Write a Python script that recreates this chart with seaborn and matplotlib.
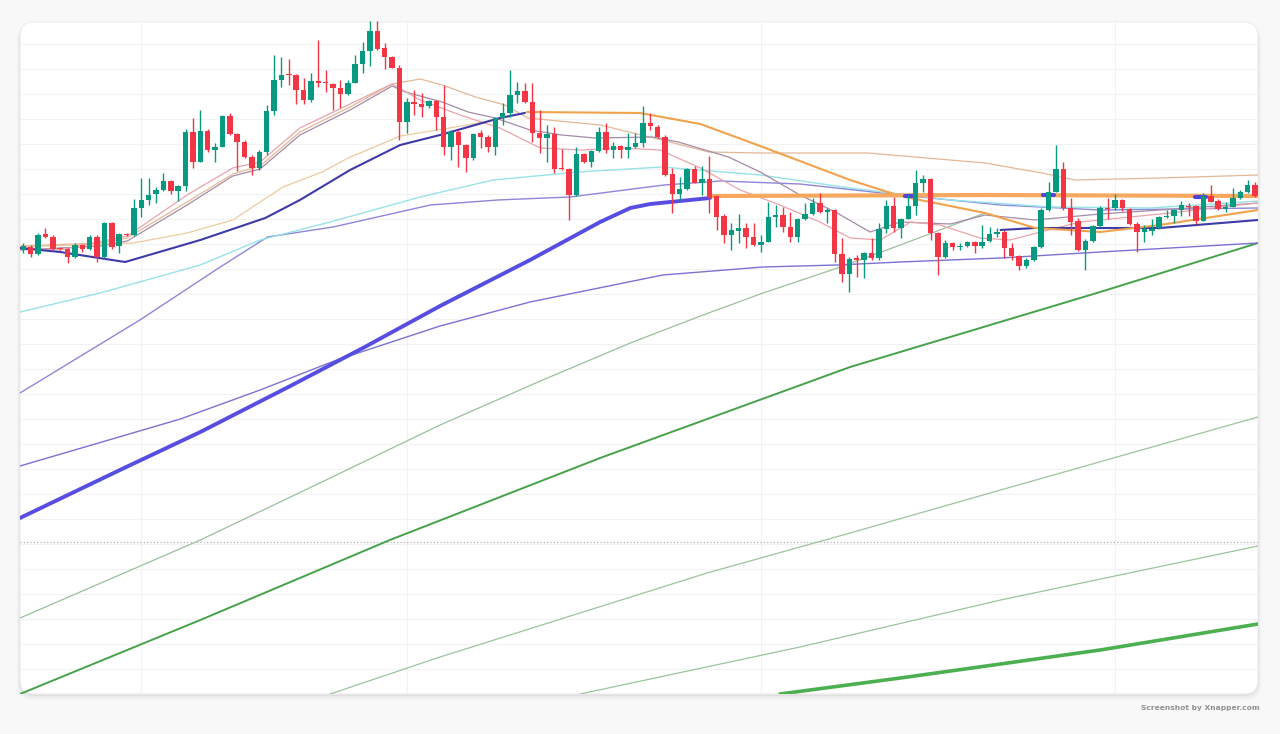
import numpy as np
import matplotlib
matplotlib.use("Agg")
import matplotlib.pyplot as plt
from matplotlib.patches import FancyBboxPatch
import seaborn as sns

# OHLC, eine Kerze pro Periode
opens = [484, 487, 480, 500, 497, 486, 485, 477, 489, 485,
         497, 477, 511, 488, 500, 499, 526, 534, 540, 544,
         553, 543, 548, 602, 572, 603, 584, 587, 618, 600,
         592, 577, 566, 582, 623, 654, 660, 659, 644, 634,
         653, 652, 650, 646, 640, 651, 670, 683, 703, 686,
         677, 666, 612, 632, 630, 628, 633, 617, 587, 602,
         589, 576, 601, 597, 587, 616, 621, 639, 643, 632,
         601, 596, 600, 566, 565, 539, 580, 572, 583, 602,
         584, 588, 584, 587, 591, 611, 607, 597, 560, 540,
         545, 565, 551, 555, 538, 518, 499, 503, 506, 497,
         489, 492, 517, 519, 507, 497, 515, 520, 531, 522,
         524, 480, 460, 476, 474, 481, 476, 505, 528, 506,
         515, 528, 551, 555, 501, 477, 491, 487, 488, 492,
         488, 493, 500, 502, 486, 478, 468, 474, 487, 524,
         542, 565, 526, 513, 484, 493, 508, 526, 526, 534,
         525, 510, 502, 503, 506, 517, 518, 524, 528, 528,
         513, 538, 533, 525, 527, 536, 542, 549]
highs = [491, 489, 501, 506, 499, 487, 486, 491, 490, 499,
         499, 512, 512, 501, 501, 535, 556, 556, 547, 561,
         554, 549, 605, 616, 624, 605, 591, 619, 621, 601,
         594, 579, 584, 629, 679, 677, 675, 660, 656, 661,
         694, 664, 651, 654, 654, 679, 692, 713, 713, 691,
         678, 669, 636, 644, 641, 634, 634, 649, 604, 604,
         590, 601, 604, 599, 617, 631, 664, 652, 651, 651,
         624, 609, 607, 585, 566, 587, 581, 584, 607, 611,
         592, 589, 601, 601, 628, 621, 609, 599, 566, 557,
         566, 568, 568, 578, 539, 520, 511, 520, 511, 511,
         499, 532, 529, 527, 522, 516, 531, 536, 541, 526,
         525, 496, 477, 479, 482, 496, 511, 534, 537, 516,
         539, 564, 559, 556, 502, 494, 492, 491, 493, 493,
         509, 507, 506, 504, 491, 479, 476, 488, 526, 552,
         589, 572, 536, 516, 495, 509, 528, 536, 540, 535,
         526, 512, 509, 515, 518, 524, 525, 533, 531, 529,
         541, 549, 535, 532, 546, 544, 554, 552]
lows = [481, 477, 479, 496, 484, 484, 471, 476, 482, 484,
        472, 476, 485, 481, 498, 498, 517, 529, 531, 543,
        540, 533, 543, 566, 572, 582, 572, 587, 599, 563,
        576, 559, 564, 579, 619, 647, 649, 630, 630, 632,
        647, 642, 624, 626, 639, 651, 661, 668, 684, 665,
        666, 594, 601, 619, 617, 626, 604, 579, 574, 567,
        562, 574, 586, 582, 579, 609, 617, 631, 631, 592,
        581, 572, 561, 564, 514, 538, 571, 567, 582, 581,
        576, 576, 576, 586, 587, 604, 596, 558, 521, 534,
        544, 551, 539, 521, 504, 491, 484, 491, 486, 488,
        482, 492, 507, 502, 492, 492, 514, 519, 521, 511,
        472, 452, 442, 457, 456, 474, 474, 501, 502, 496,
        515, 519, 542, 494, 459, 476, 484, 484, 487, 481,
        486, 492, 497, 476, 474, 464, 466, 473, 486, 523,
        542, 524, 499, 483, 464, 492, 507, 515, 524, 523,
        509, 482, 492, 499, 505, 516, 511, 518, 518, 510,
        513, 532, 524, 522, 527, 535, 541, 537]
closes = [488, 480, 499, 497, 485, 485, 477, 489, 485, 497,
          477, 511, 487, 500, 499, 526, 534, 539, 544, 553,
          543, 548, 602, 572, 603, 584, 587, 618, 600, 592,
          577, 566, 582, 623, 654, 659, 659, 644, 634, 653,
          651, 651, 646, 640, 651, 670, 683, 703, 685, 677,
          666, 612, 632, 630, 627, 633, 617, 587, 602, 589,
          576, 600, 597, 587, 616, 621, 639, 643, 632, 601,
          596, 600, 565, 565, 539, 580, 572, 583, 602, 584,
          588, 584, 587, 591, 611, 608, 597, 559, 540, 545,
          565, 551, 555, 536, 517, 499, 504, 506, 497, 489,
          492, 517, 519, 507, 497, 515, 520, 531, 522, 524,
          480, 460, 475, 474, 481, 476, 505, 528, 506, 515,
          528, 551, 555, 501, 477, 491, 487, 488, 492, 488,
          492, 500, 502, 486, 478, 468, 474, 487, 524, 542,
          565, 526, 512, 484, 493, 508, 526, 525, 534, 526,
          510, 502, 505, 505, 517, 518, 524, 529, 527, 513,
          538, 532, 525, 527, 536, 542, 549, 538]

# Indikatorlinien: Stuetzstellen (Kerzenindex, Wert)
blue_thick_x = [-0.45, 13.1, 24.0, 36.2, 46.3, 56.5, 68.7, 78.2, 82.3, 85.0, 87.7, 93.1]
blue_thick_y = [216, 264, 302, 348, 387, 428, 474, 512, 526, 530, 532, 536]

orange_thick_x = [93.1, 130.4, 167.4]
orange_thick_y = [538, 539, 538]

# kurze blaue Abschnitte auf der dicken orangen Linie
blue_mark1_x = [119.6, 121.0]
blue_mark1_y = [538, 538]
blue_mark2_x = [138.3, 139.7]
blue_mark2_y = [539, 539]
blue_mark3_x = [158.9, 160.3]
blue_mark3_y = [537, 537]

orange_x = [68.3, 83.6, 91.8, 99.9, 112.1, 118.9, 130.4, 137.2, 146.0, 154.1, 167.4]
orange_y = [622, 621, 610, 588, 554, 538, 521, 506, 502, 509, 524]

tan_x = [-0.45, 14.9, 22.2, 28.4, 32.1, 35.2, 40.5, 44.3, 47.3, 51.1, 56.2, 64.0, 68.3]
tan_y = [487, 491, 501, 514, 532, 547, 562, 577, 586, 598, 604, 614, 622]

ma_a_x = [-0.45, 10.4, 14.1, 22.2, 28.4, 32.1, 37.5, 44.3, 50.0, 53.8, 56.8, 61.3,
          65.3, 68.4, 78.2, 86.6, 92.9, 99.9, 114.5, 130.4, 138.1, 142.6, 154.1, 167.4]
ma_a_y = [488, 491, 496, 532, 560, 568, 602, 627, 650, 655, 649, 637,
          629, 616, 609, 594, 582, 581, 581, 571, 561, 554, 556, 559]

ma_b_x = [-0.45, 10.4, 14.1, 22.2, 28.4, 32.1, 37.5, 44.3, 50.0, 51.8, 56.8, 60.3,
          64.0, 68.7, 73.0, 77.5, 85.3, 88.8, 95.6, 99.9, 105.3, 110.1, 114.8, 118.9,
          125.7, 130.4, 137.2, 146.0, 154.1, 167.4]
ma_b_y = [484, 488, 493, 529, 558, 565, 599, 624, 648, 642, 632, 622,
          616, 604, 599, 596, 597, 592, 577, 562, 539, 522, 502, 512,
          510, 519, 514, 520, 524, 531]

ma_c_x = [-0.45, 5.0, 14.1, 22.2, 28.4, 32.1, 37.5, 44.3, 50.0, 53.8, 59.2, 64.6,
          70.1, 75.5, 80.9, 86.3, 91.8, 97.2, 102.6, 108.0, 112.1, 116.2, 120.3, 124.3,
          129.7, 133.8, 137.9, 143.3, 148.7, 155.5, 162.3, 167.4]
ma_c_y = [486, 484, 498, 539, 566, 572, 606, 630, 650, 634, 619, 606,
          586, 584, 586, 584, 566, 544, 529, 512, 496, 494, 512, 509,
          496, 494, 502, 512, 516, 521, 527, 531]

navy_x = [-0.45, 5.0, 13.8, 24.0, 32.8, 37.5, 44.3, 51.1, 56.5, 64.6, 68.0]
navy_y = [486, 482, 472, 494, 516, 534, 564, 589, 599, 616, 621]
navy_r_x = [132.5, 137.2, 154.1, 167.4]
navy_r_y = [504, 506, 506, 514]

lavender_x = [-0.45, 15.8, 26.7, 33.1, 42.0, 55.2, 64.3, 74.1, 86.9, 94.5, 105.3, 118.9, 132.5, 146.0, 167.4]
lavender_y = [341, 414, 467, 497, 507, 529, 534, 537, 549, 553, 550, 539, 529, 524, 526]

cyan_x = [-0.45, 10.4, 24.0, 32.1, 41.6, 53.8, 63.7, 75.2, 86.6, 99.9, 112.1, 125.7, 139.2, 152.8, 167.4]
cyan_y = [422, 441, 469, 494, 512, 537, 554, 562, 567, 559, 546, 534, 527, 526, 533]

purple_x = [-0.45, 21.3, 32.1, 42.5, 56.5, 68.7, 86.7, 100.3, 110.3, 118.9, 132.5, 146.0, 167.4]
purple_y = [268, 315, 344, 374, 408, 432, 459, 467, 469, 472, 476, 482, 491]

green_thin1_x = [-0.45, 24.0, 40.2, 56.5, 70.1, 82.3, 91.8, 100.3, 110.8, 118.9, 130.4]
green_thin1_y = [116, 194, 251, 309, 353, 391, 418, 441, 467, 489, 521]

green_mid_x = [-0.45, 24.0, 49.7, 78.2, 112.1, 146.0, 167.4]
green_mid_y = [40, 114, 194, 276, 367, 442, 491]

green_thin2_x = [41.6, 56.5, 92.7, 112.1, 132.5, 167.4]
green_thin2_y = [40, 77, 161, 201, 244, 317]

green_thin3_x = [75.5, 105.3, 132.5, 167.4]
green_thin3_y = [40, 87, 134, 188]

green_thick_x = [102.6, 118.9, 132.5, 146.0, 167.4]
green_thick_y = [40, 56, 70, 84, 110]

last_price = 192
grid_x = [16, 52, 100, 148]

UP = "#089981"
DOWN = "#f23645"

sns.set_theme(style="white")
plt.rcParams["font.family"] = ["DejaVu Sans"]

W, H = 1280, 734
fig = plt.figure(figsize=(W / 100, H / 100), dpi=100)
fig.patch.set_facecolor("#f8f8f8")

# Karte mit weichem Schatten (hinter der Achse)
for off, a in [(6, 0.02), (4, 0.03), (2, 0.045)]:
    sh = FancyBboxPatch((20 - off / 2, 40 - off), 1238 + off, 672 + off / 2,
                        boxstyle="round,pad=0,rounding_size=16", transform=None,
                        facecolor="black", edgecolor="none", alpha=a, zorder=-3)
    fig.patches.append(sh)
card = FancyBboxPatch((20, 40), 1238, 672, boxstyle="round,pad=0,rounding_size=14",
                      transform=None, facecolor="white", edgecolor="#ededed",
                      linewidth=0.8, zorder=-2)
fig.patches.append(card)

ax = fig.add_axes([20 / W, 40 / H, 1238 / W, 674 / H])
ax.set_zorder(5)
ax.set_facecolor("none")
ax.set_xlim(-0.45, 167.4)
ax.set_ylim(40, 714)

ax.set_yticks(np.arange(65, 700, 25))
ax.set_xticks(grid_x)
ax.grid(True, color="#f2f2f2", linewidth=0.8)
ax.tick_params(left=False, bottom=False, labelleft=False, labelbottom=False)
for s in ax.spines.values():
    s.set_visible(False)

ax.axhline(last_price, color="#a8a8a8", linestyle=(0, (1, 2)), linewidth=0.8, zorder=1)

lines = [
    (green_thin3_x, green_thin3_y, "#9cc49c", 0.9),
    (green_thin2_x, green_thin2_y, "#9cc49c", 0.9),
    (green_thin1_x, green_thin1_y, "#9cbf9c", 0.9),
    (green_mid_x, green_mid_y, "#46a24a", 1.4),
    (green_thick_x, green_thick_y, "#4caf50", 2.6),
    (purple_x, purple_y, "#7b72d4", 1.0),
    (lavender_x, lavender_y, "#8e86da", 1.0),
    (cyan_x, cyan_y, "#98e2e8", 1.0),
    (tan_x, tan_y, "#eccb9f", 0.9),
    (ma_a_x, ma_a_y, "#e3b898", 0.9),
    (ma_b_x, ma_b_y, "#a48ca8", 0.9),
    (ma_c_x, ma_c_y, "#e9a4aa", 0.9),
    (navy_x, navy_y, "#3e3aa8", 1.5),
    (navy_r_x, navy_r_y, "#3e3aa8", 1.5),
    (orange_x, orange_y, "#f1a24c", 1.5),
    (blue_thick_x, blue_thick_y, "#574de0", 2.8),
    (orange_thick_x, orange_thick_y, "#f5a85e", 3.0),
    (blue_mark1_x, blue_mark1_y, "#4f46d8", 3.0),
    (blue_mark2_x, blue_mark2_y, "#4f46d8", 3.0),
    (blue_mark3_x, blue_mark3_y, "#4f46d8", 3.0),
]
for xs, ys, col, lw in lines:
    sns.lineplot(x=xs, y=ys, ax=ax, color=col, linewidth=lw,
                 estimator=None, sort=False, zorder=2)

# Kerzen
o = np.array(opens)
h = np.array(highs)
l = np.array(lows)
c = np.array(closes)
idx = np.arange(len(o))
cols = np.where(c >= o, UP, DOWN)
ax.vlines(idx, l, h, colors=cols, linewidth=1.0, zorder=3)
ax.bar(idx, np.maximum(np.abs(c - o), 1.3), bottom=np.minimum(o, c), width=0.74,
       color=cols, linewidth=0, zorder=4)

fig.text(1260 / W, 1 - 708 / H, "Screenshot by Xnapper.com", ha="right", va="center",
         fontsize=5.4, color="#909090", fontweight="semibold")

fig.savefig("out.png", dpi=100, facecolor=fig.get_facecolor())
